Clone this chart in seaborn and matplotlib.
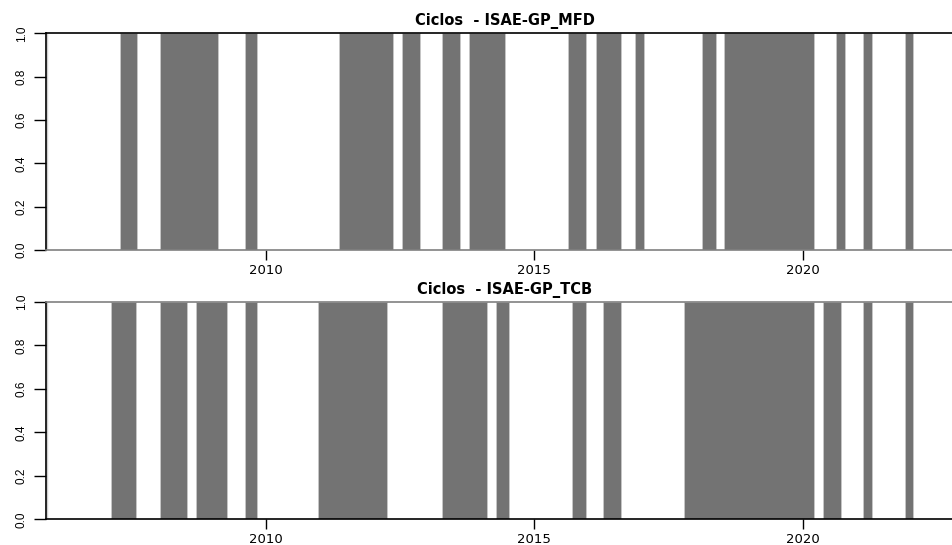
import matplotlib
matplotlib.use("Agg")
import matplotlib.pyplot as plt
import seaborn as sns

# Recession periods (decimal years)
mfd_start = [2007.28, 2008.03, 2009.61, 2011.36, 2012.54, 2013.28, 2013.79, 2015.63,
             2016.14, 2016.88, 2018.12, 2018.53, 2020.62, 2021.12, 2021.90]
mfd_end = [2007.59, 2009.10, 2009.84, 2012.36, 2012.86, 2013.61, 2014.45, 2015.96,
           2016.61, 2017.04, 2018.39, 2020.21, 2020.79, 2021.29, 2022.06]

tcb_start = [2007.11, 2008.03, 2008.70, 2009.61, 2010.96, 2013.28, 2014.29, 2015.70,
             2016.28, 2017.79, 2020.38, 2021.12, 2021.90]
tcb_end = [2007.58, 2008.52, 2009.27, 2009.84, 2012.26, 2014.11, 2014.52, 2015.96,
           2016.61, 2020.21, 2020.71, 2021.29, 2022.06]

series_start = 2005.92
x_ticks = [2010, 2015, 2020]
y_ticks = [0.0, 0.2, 0.4, 0.6, 0.8, 1.0]

panels = [
    ("Ciclos  - ISAE-GP_MFD", mfd_start, mfd_end, "black", "#808080"),
    ("Ciclos  - ISAE-GP_TCB", tcb_start, tcb_end, "#808080", "black"),
]

sns.set_theme(style="white")
plt.rcParams["font.family"] = ["DejaVu Sans"]
plt.rcParams["text.color"] = "black"
plt.rcParams["xtick.color"] = "black"
plt.rcParams["ytick.color"] = "black"

fig = plt.figure(figsize=(9.53, 5.45), dpi=100)
positions = [[0.048, 0.5413, 0.9636, 0.3976], [0.048, 0.0471, 0.9636, 0.3988]]

for pos, (title, starts, ends, top_col, bot_col) in zip(positions, panels):
    ax = fig.add_axes(pos)
    widths = [e - s for s, e in zip(starts, ends)]
    ax.bar(starts, [1.0] * len(starts), width=widths, align="edge",
           color="#737373", edgecolor="#c8c8c8", linewidth=0.6)
    ax.axvline(series_start, color="#d0d0d0", lw=1)
    ax.set_xlim(2005.895, 2023.005)
    ax.set_ylim(0, 1)
    ax.set_xticks(x_ticks)
    ax.set_xticklabels([str(t) for t in x_ticks], fontsize=9.5)
    ax.set_yticks(y_ticks)
    ax.set_yticklabels([f"{t:.1f}" for t in y_ticks], rotation=90, va="center",
                       fontsize=8.5, family=["Liberation Sans Narrow", "Liberation Sans"])
    ax.tick_params(axis="x", direction="out", length=7, width=1,
                   bottom=True, pad=3)
    ax.tick_params(axis="y", direction="out", length=9, width=1,
                   left=True, pad=4)
    ax.spines["right"].set_visible(False)
    ax.spines["left"].set_color("black")
    ax.spines["left"].set_linewidth(1.2)
    ax.spines["top"].set_color(top_col)
    ax.spines["top"].set_linewidth(1.2)
    ax.spines["bottom"].set_color(bot_col)
    ax.spines["bottom"].set_linewidth(1.2)
    ax.set_title(title, fontsize=10.5, fontweight="bold", pad=6)
    ax.grid(False)

fig.savefig("out.png", dpi=100)
